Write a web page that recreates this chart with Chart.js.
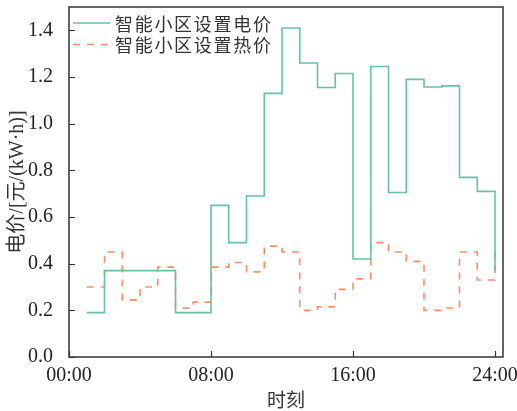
<!DOCTYPE html>
<html>
<head>
<meta charset="utf-8">
<script src="https://cdn.jsdelivr.net/npm/chart.js@4/dist/chart.umd.min.js"></script>
<style>
  html, body { margin: 0; padding: 0; background: #fff; }
  #wrap { width: 517px; height: 411px; position: relative; }
</style>
</head>
<body>
<div id="wrap"><canvas id="priceChart" width="517" height="411"></canvas></div>
<script>
// hour steps (step held until next hour)
const hours = [1, 2, 3, 4, 5, 6, 7, 8, 9, 10, 11, 12, 13, 14, 15, 16, 17, 18, 19, 20, 21, 22, 23, 24];
const elecPrice = [0.19, 0.37, 0.37, 0.37, 0.37, 0.19, 0.19, 0.65, 0.49, 0.69, 1.13, 1.41,
                   1.26, 1.155, 1.215, 0.42, 1.245, 0.705, 1.19, 1.157, 1.162, 0.77, 0.71, 0.37];
const heatPrice = [0.30, 0.45, 0.245, 0.30, 0.385, 0.21, 0.235, 0.385, 0.405, 0.365, 0.475, 0.45,
                   0.20, 0.215, 0.29, 0.335, 0.49, 0.45, 0.41, 0.20, 0.21, 0.45, 0.33, 0.45];
const xTicks = [0, 8, 16, 24];
const yTicks = [0, 0.2, 0.4, 0.6, 0.8, 1.0, 1.2, 1.4];
const seriesNames = ['智能小区设置电价', '智能小区设置热价'];

const GREEN = '#66c2a5';
const ORANGE = '#fc8d62';
const serif = '"Liberation Serif", "Noto Sans CJK SC", serif';

// no automatic label overflow padding: keep the plot box where the reference has it
const noPad = axis => {
    axis.paddingLeft = 0;
    axis.paddingRight = 0;
    axis.paddingTop = 0;
    axis.paddingBottom = 0;
};

// frame, inward ticks and legend, drawn over the chart area
const framePlugin = {
    id: 'frame',
    afterDraw(chart) {
        const { ctx, chartArea: a, scales } = chart;
        ctx.save();
        ctx.strokeStyle = '#333';
        ctx.lineWidth = 1.5;
        ctx.strokeRect(a.left, a.top, a.right - a.left, a.bottom - a.top);
        ctx.lineWidth = 1.2;
        ctx.beginPath();
        xTicks.forEach(t => {
            const x = Math.round(scales.x.getPixelForValue(t)) + 0.5;
            ctx.moveTo(x, a.bottom);
            ctx.lineTo(x, a.bottom - 6);
        });
        yTicks.forEach(t => {
            const y = Math.round(scales.y.getPixelForValue(t)) + 0.5;
            ctx.moveTo(a.left, y);
            ctx.lineTo(a.left + 6, y);
        });
        ctx.stroke();

        // legend
        const items = [
            { color: GREEN, dash: [], y: 23 },
            { color: ORANGE, dash: [7, 7], y: 44.5 }
        ];
        items.forEach((it, i) => {
            ctx.strokeStyle = it.color;
            ctx.lineWidth = 1.5;
            ctx.setLineDash(it.dash);
            ctx.beginPath();
            ctx.moveTo(73, it.y);
            ctx.lineTo(110, it.y);
            ctx.stroke();
            ctx.setLineDash([]);
            ctx.fillStyle = '#333';
            ctx.font = '18px "Noto Sans CJK SC"';
            ctx.letterSpacing = '1.7px';
            ctx.textBaseline = 'middle';
            ctx.fillText(seriesNames[i], 115, it.y + 1);
        });
        ctx.restore();
    }
};

new Chart(document.getElementById('priceChart'), {
    type: 'line',
    data: {
        datasets: [
            {
                label: seriesNames[0],
                data: hours.map((h, i) => ({ x: h, y: elecPrice[i] })),
                borderColor: GREEN,
                borderWidth: 1.6,
                stepped: 'before',
                pointRadius: 0,
                fill: false
            },
            {
                label: seriesNames[1],
                data: hours.map((h, i) => ({ x: h, y: heatPrice[i] })),
                borderColor: ORANGE,
                borderWidth: 1.6,
                borderDash: [7, 7],
                stepped: 'before',
                pointRadius: 0,
                fill: false
            }
        ]
    },
    options: {
        responsive: false,
        animation: false,
        devicePixelRatio: 1,
        layout: { padding: { top: 7, right: 14, left: 0, bottom: 0 } },
        plugins: {
            legend: { display: false },
            tooltip: { enabled: false }
        },
        scales: {
            x: {
                type: 'linear',
                min: 0,
                max: 24.45,
                grid: { display: false },
                border: { display: false },
                afterBuildTicks: axis => { axis.ticks = xTicks.map(v => ({ value: v })); },
                afterFit: axis => { axis.height = 54; noPad(axis); },
                ticks: {
                    padding: -1,
                    maxRotation: 0,
                    color: '#222',
                    font: { family: serif, size: 20 },
                    callback: v => String(v).padStart(2, '0') + ':00'
                },
                title: {
                    display: true,
                    text: '时刻',
                    color: '#333',
                    font: { family: '"Noto Sans CJK SC"', size: 19 },
                    padding: { top: 2, bottom: 0 }
                }
            },
            y: {
                min: 0,
                max: 1.5,
                grid: { display: false },
                border: { display: false },
                afterBuildTicks: axis => { axis.ticks = yTicks.map(v => ({ value: v })); },
                afterFit: axis => { axis.width = 69; noPad(axis); },
                ticks: {
                    padding: 8,
                    color: '#222',
                    font: { family: serif, size: 20 },
                    callback: v => Number(v).toFixed(1)
                },
                title: {
                    display: true,
                    text: '电价/[元/(kW·h)]',
                    color: '#333',
                    font: { family: serif, size: 20 },
                    padding: { top: 6, bottom: 0 }
                }
            }
        }
    },
    plugins: [framePlugin]
});
</script>
</body>
</html>
